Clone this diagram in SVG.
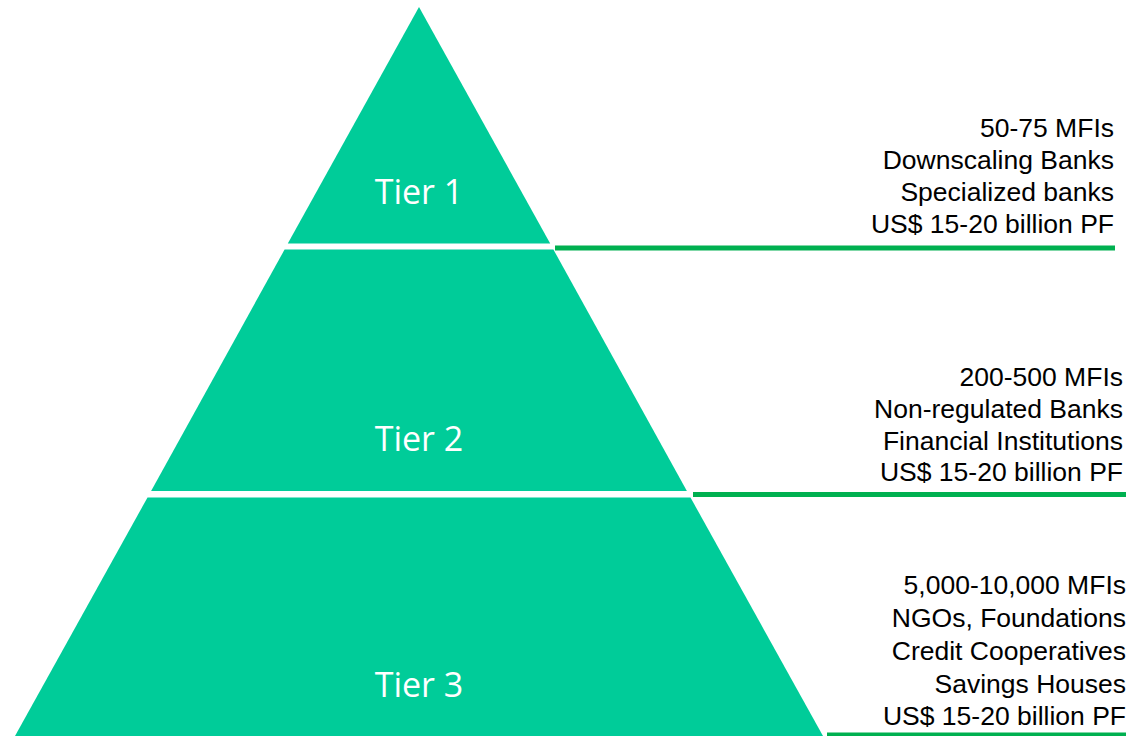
<svg xmlns="http://www.w3.org/2000/svg" width="1126" height="736" viewBox="0 0 1126 736">
  <style>
    .tier { fill: #00CC99; }
    .tier-label { font-family: "Open Sans", "Liberation Sans", sans-serif; font-size: 34px; fill: #FFFFFF; text-anchor: middle; }
    .info { font-family: "Liberation Sans", Arial, sans-serif; font-size: 26.5px; fill: #000000; text-anchor: end; }
    .rule { stroke: #00B050; stroke-width: 5; fill: none; }
  </style>
  <rect width="1126" height="736" fill="#FFFFFF"/>

  <!-- Tier 1: top of the pyramid -->
  <g id="tier1">
    <polygon class="tier" points="419,7 550.2,243.5 287.8,243.5"/>
    <text class="tier-label" x="419" y="204">Tier 1</text>
    <text class="info" x="1114" y="137">50-75 MFIs</text>
    <text class="info" x="1114" y="169">Downscaling Banks</text>
    <text class="info" x="1114" y="201">Specialized banks</text>
    <text class="info" x="1114" y="233">US$ 15-20 billion PF</text>
  </g>

  <!-- Tier 2: middle band -->
  <g id="tier2">
    <polygon class="tier" points="284.6,249.5 553.4,249.5 686.9,491 151.1,491"/>
    <text class="tier-label" x="419" y="451">Tier 2</text>
    <text class="info" x="1123" y="386">200-500 MFIs</text>
    <text class="info" x="1123" y="418">Non-regulated Banks</text>
    <text class="info" x="1123" y="450">Financial Institutions</text>
    <text class="info" x="1123" y="481">US$ 15-20 billion PF</text>
  </g>

  <!-- Tier 3: base band -->
  <g id="tier3">
    <polygon class="tier" points="147.5,497.5 690.5,497.5 823,736 15,736"/>
    <text class="tier-label" x="419" y="697">Tier 3</text>
    <text class="info" x="1126" y="594">5,000-10,000 MFIs</text>
    <text class="info" x="1126" y="627">NGOs, Foundations</text>
    <text class="info" x="1126" y="660">Credit Cooperatives</text>
    <text class="info" x="1126" y="693">Savings Houses</text>
    <text class="info" x="1126" y="725">US$ 15-20 billion PF</text>
  </g>

  <!-- Divider rules under each description -->
  <g id="connectors">
    <line class="rule" x1="555" y1="248" x2="1115" y2="248"/>
    <line class="rule" x1="693" y1="494.5" x2="1126" y2="494.5"/>
    <line class="rule" x1="827" y1="735" x2="1126" y2="735" stroke-width="2"/>
  </g>
</svg>
